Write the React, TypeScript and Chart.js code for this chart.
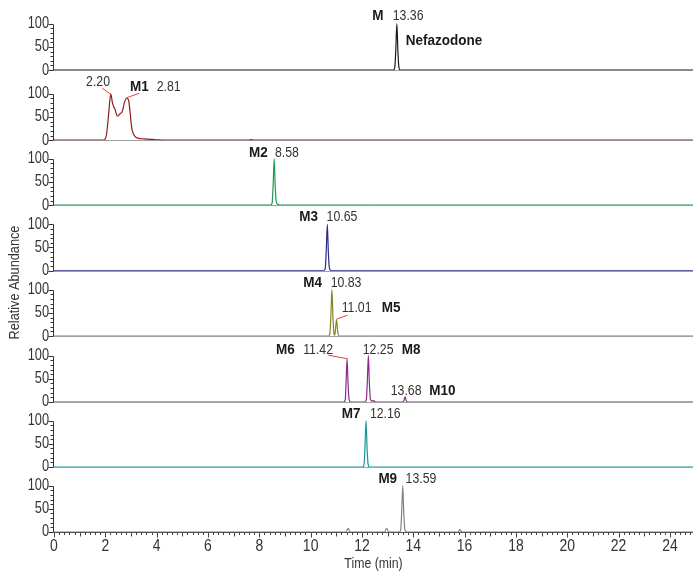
import React, { useEffect, useRef } from 'react';
import { Chart, registerables } from 'chart.js';

Chart.register(...registerables);

// ---------------- data ----------------
const PANEL_IDS = ['M', 'M1', 'M2', 'M3', 'M4_M5', 'M6_M8_M10', 'M7', 'M9'];

const TRACE_M: [number, number][] = [
  [0, 0], [13.22, 0], [13.28, 6], [13.32, 45], [13.36, 100], [13.40, 42], [13.44, 6], [13.5, 0], [24.9, 0],
];
const TRACE_M1: [number, number][] = [
  [0, 0], [1.9, 0], [1.97, 1], [2.05, 14], [2.14, 63], [2.21, 100], [2.28, 80], [2.38, 66], [2.47, 52],
  [2.57, 57], [2.66, 62], [2.75, 82], [2.83, 91], [2.91, 85], [2.97, 58], [3.03, 26], [3.10, 13],
  [3.18, 7], [3.30, 4], [3.50, 3], [3.75, 2], [4.0, 1], [4.3, 0], [7.6, 0], [7.68, 1.5], [7.76, 0], [24.9, 0],
];
const TRACE_M2: [number, number][] = [
  [0, 0], [8.45, 0], [8.5, 5], [8.54, 45], [8.58, 100], [8.62, 40], [8.66, 8], [8.72, 2], [8.8, 0], [24.9, 0],
];
const TRACE_M3: [number, number][] = [
  [0, 0], [10.52, 0], [10.57, 5], [10.61, 45], [10.65, 100], [10.69, 40], [10.73, 6], [10.8, 0], [24.9, 0],
];
const TRACE_M4_M5: [number, number][] = [
  [0, 0], [10.7, 0], [10.75, 5], [10.79, 45], [10.83, 100], [10.87, 40], [10.91, 5], [10.94, 2],
  [10.97, 15], [11.01, 36], [11.05, 12], [11.09, 0], [24.9, 0],
];
const TRACE_M6_M8_M10: [number, number][] = [
  [0, 0], [11.3, 0], [11.35, 5], [11.38, 40], [11.42, 93], [11.46, 38], [11.5, 5], [11.56, 0],
  [12.12, 0], [12.17, 5], [12.21, 45], [12.25, 100], [12.29, 40], [12.33, 6], [12.4, 2], [12.46, 3],
  [12.52, 0], [13.58, 0], [13.64, 4], [13.68, 11], [13.72, 4], [13.78, 0], [24.9, 0],
];
const TRACE_M7: [number, number][] = [
  [0, 0], [12.03, 0], [12.08, 5], [12.12, 45], [12.16, 100], [12.2, 40], [12.24, 6], [12.3, 0], [24.9, 0],
];
const TRACE_M9: [number, number][] = [
  [0, 0], [11.38, 0], [11.46, 8], [11.54, 0], [12.88, 0], [12.96, 8], [13.04, 0], [13.46, 0], [13.51, 5],
  [13.55, 45], [13.59, 100], [13.63, 40], [13.67, 6], [13.74, 0], [15.74, 0], [15.82, 5], [15.9, 0], [24.9, 0],
];

const TRACES = [TRACE_M, TRACE_M1, TRACE_M2, TRACE_M3, TRACE_M4_M5, TRACE_M6_M8_M10, TRACE_M7, TRACE_M9];

const X_TICKS = [0, 2, 4, 6, 8, 10, 12, 14, 16, 18, 20, 22, 24];
const Y_TICKS = [0, 50, 100];
const X_TITLE = 'Time (min)';
const Y_TITLE = 'Relative Abundance';

// peak labels: panel index, time, panel value, text, bold
const PEAK_TEXTS: [number, number, number, string, boolean][] = [
  [0, 12.40, 117, 'M', true], [0, 13.20, 117, '13.36', false], [0, 13.71, 64, 'Nefazodone', true],
  [1, 1.25, 126, '2.20', false], [1, 2.96, 115, 'M1', true], [1, 4.00, 115, '2.81', false],
  [2, 7.60, 113, 'M2', true], [2, 8.61, 113, '8.58', false],
  [3, 9.56, 115, 'M3', true], [3, 10.62, 115, '10.65', false],
  [4, 9.71, 115, 'M4', true], [4, 10.78, 115, '10.83', false],
  [4, 11.21, 60, '11.01', false], [4, 12.77, 60, 'M5', true],
  [5, 8.65, 113, 'M6', true], [5, 9.71, 113, '11.42', false],
  [5, 12.03, 113, '12.25', false], [5, 13.55, 113, 'M8', true],
  [5, 13.12, 25, '13.68', false], [5, 14.62, 25, 'M10', true],
  [6, 11.21, 115, 'M7', true], [6, 12.31, 115, '12.16', false],
  [7, 12.64, 115, 'M9', true], [7, 13.70, 115, '13.59', false],
];
// leader lines: panel, t1, v1, t2, v2
const LEADERS: [number, number, number, number, number][] = [
  [1, 1.88, 112, 2.21, 99],
  [1, 2.85, 92, 3.32, 101],
  [4, 11.02, 37, 11.44, 45],
  [5, 10.69, 101, 11.44, 93],
];

// ---------------- styles ----------------
const COLORS = ['#1a1a1a', '#8e1c1c', '#1f9a55', '#2a2a88', '#878526', '#8c2a8c', '#17999a', '#7e848a'];
const PANEL_MAX = [136, 151, 140, 141, 141, 142, 140, 140];
const FONT = "'Liberation Sans', Arial, sans-serif";
const TEXT_COLOR = '#333';

function drawText(
  ctx: CanvasRenderingContext2D,
  text: string,
  x: number,
  y: number,
  font: string,
  color: string,
  align: CanvasTextAlign,
  sx: number,
) {
  ctx.save();
  ctx.translate(x, y);
  ctx.scale(sx, 1);
  ctx.font = font;
  ctx.fillStyle = color;
  ctx.textAlign = align;
  ctx.textBaseline = 'middle';
  ctx.fillText(text, 0, 0);
  ctx.restore();
}

const decorPlugin = {
  id: 'decor',
  beforeDatasetsDraw(chart: any) {
    const ctx = chart.ctx;
    const xs = chart.scales.x;
    const { left, right } = chart.chartArea;
    ctx.save();
    ctx.lineWidth = 1;
    PANEL_MAX.forEach((_, i) => {
      const ys = chart.scales['y' + i];
      const y0 = Math.round(ys.getPixelForValue(0)) + 0.5;
      const y100 = Math.round(ys.getPixelForValue(100)) + 0.5;
      ctx.strokeStyle = i === 7 ? '#555' : '#a0a0a0';
      ctx.beginPath();
      ctx.moveTo(left, y0);
      ctx.lineTo(right, y0);
      ctx.stroke();
      ctx.strokeStyle = '#333';
      const ax = Math.round(left) - 0.5;
      ctx.beginPath();
      ctx.moveTo(ax, y0);
      ctx.lineTo(ax, y100);
      for (let v = 0; v <= 100; v += 10) {
        const y = Math.round(ys.getPixelForValue(v)) + 0.5;
        const len = v % 50 === 0 ? 5 : 3;
        ctx.moveTo(ax - len, y);
        ctx.lineTo(ax, y);
      }
      ctx.stroke();
      Y_TICKS.forEach((v) => {
        drawText(ctx, String(v), left - 5, ys.getPixelForValue(v), `16px ${FONT}`, TEXT_COLOR, 'right', 0.8);
      });
    });
    const yb = Math.round(chart.scales.y7.getPixelForValue(0)) + 0.5;
    ctx.strokeStyle = '#444';
    ctx.beginPath();
    for (let k = 0; k <= 124; k++) {
      const x = Math.round(xs.getPixelForValue(k / 5)) + 0.5;
      const len = k % 10 === 0 ? 5 : k % 5 === 0 ? 4 : 2.5;
      ctx.moveTo(x, yb);
      ctx.lineTo(x, yb + len);
    }
    ctx.stroke();
    X_TICKS.forEach((v) => {
      drawText(ctx, String(v), xs.getPixelForValue(v), yb + 14, `17px ${FONT}`, TEXT_COLOR, 'center', 0.82);
    });
    drawText(ctx, X_TITLE, (xs.left + xs.right) / 2, yb + 31.5, `15px ${FONT}`, TEXT_COLOR, 'center', 0.82);
    ctx.restore();
  },
  afterDatasetsDraw(chart: any) {
    const ctx = chart.ctx;
    const xs = chart.scales.x;
    ctx.save();
    ctx.strokeStyle = '#e8403a';
    ctx.lineWidth = 1;
    LEADERS.forEach(([p, t1, v1, t2, v2]) => {
      const ys = chart.scales['y' + p];
      ctx.beginPath();
      ctx.moveTo(xs.getPixelForValue(t1), ys.getPixelForValue(v1));
      ctx.lineTo(xs.getPixelForValue(t2), ys.getPixelForValue(v2));
      ctx.stroke();
    });
    PEAK_TEXTS.forEach(([p, t, v, text, bold]) => {
      const ys = chart.scales['y' + p];
      drawText(
        ctx,
        text,
        xs.getPixelForValue(t),
        ys.getPixelForValue(v),
        bold ? `bold 15px ${FONT}` : `15px ${FONT}`,
        bold ? '#1a1a1a' : TEXT_COLOR,
        'left',
        bold ? 0.9 : 0.82,
      );
    });
    // y axis title
    const { top, bottom } = chart.chartArea;
    ctx.translate(14.5, (top + bottom) / 2 + 13);
    ctx.rotate(-Math.PI / 2);
    drawText(ctx, Y_TITLE, 0, 0, `15.5px ${FONT}`, TEXT_COLOR, 'center', 0.82);
    ctx.restore();
  },
};

export default function App() {
  const ref = useRef<HTMLCanvasElement>(null);
  useEffect(() => {
    const scales: any = {
      x: {
        type: 'linear',
        position: 'bottom',
        min: 0,
        max: 24.9,
        afterFit: (s: any) => {
          s.height = 41;
        },
        grid: { display: false, drawTicks: false },
        border: { display: false },
        ticks: { display: false },
      },
    };
    PANEL_MAX.forEach((mx, i) => {
      scales['y' + i] = {
        type: 'linear',
        position: 'left',
        stack: 'panels',
        stackWeight: mx,
        weight: 8 - i,
        min: 0,
        max: mx,
        afterFit: (s: any) => {
          s.width = 54;
        },
        grid: { display: false, drawTicks: false },
        border: { display: false },
        ticks: { display: false },
      };
    });
    const chart = new Chart(ref.current!, {
      type: 'line',
      data: {
        datasets: TRACES.map((tr, i) => ({
          label: PANEL_IDS[i],
          data: tr.map(([x, y]) => ({ x, y })),
          yAxisID: 'y' + i,
          borderColor: COLORS[i],
          borderWidth: 1.2,
          pointRadius: 0,
          cubicInterpolationMode: 'monotone' as const,
          fill: false,
        })),
      },
      options: {
        animation: false,
        responsive: true,
        maintainAspectRatio: false,
        layout: { padding: { top: 7, left: 0, right: 0, bottom: 0 } },
        plugins: { legend: { display: false }, tooltip: { enabled: false } },
        scales,
      },
      plugins: [decorPlugin],
    });
    return () => chart.destroy();
  }, []);
  return (
    <div style={{ position: 'absolute', left: 0, top: 0, width: 693, height: 573, background: '#fff' }}>
      <canvas ref={ref} />
    </div>
  );
}
